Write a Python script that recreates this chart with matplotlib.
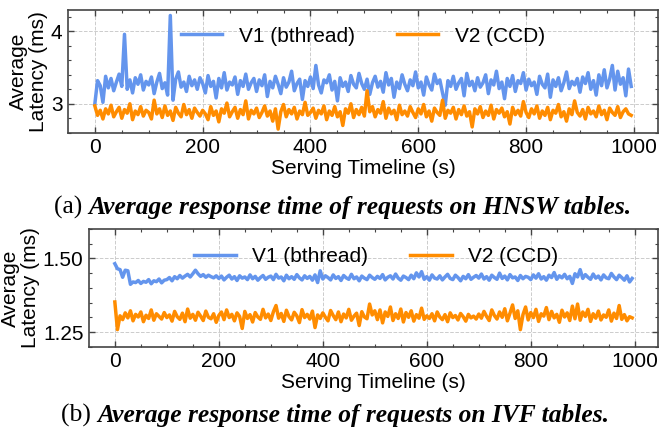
import matplotlib
matplotlib.use('Agg')
import matplotlib.pyplot as plt
from matplotlib.ticker import MultipleLocator, AutoMinorLocator, FormatStrFormatter
import numpy as np

# serving timeline, one sample every 5 s
timeline = np.arange(0, 1000, 5)

# (a) HNSW tables, average latency (ms)
hnsw_v1 = [
    3.00, 3.32, 3.25, 3.02, 3.38, 3.22, 3.35, 3.18, 3.30, 3.41, 3.24, 3.96, 3.20, 3.33, 3.15, 3.36, 3.27, 3.40, 3.19, 3.31,
    3.26, 3.37, 3.14, 3.30, 3.42, 3.21, 3.29, 3.12, 4.22, 3.05, 3.34, 3.44, 3.23, 3.30, 3.17, 3.38, 3.25, 3.33, 3.20, 3.36,
    3.28, 3.15, 3.39, 3.24, 3.31, 3.08, 3.35, 3.22, 3.43, 3.19, 3.30, 3.26, 3.37, 3.13, 3.32, 3.24, 3.41, 3.20, 3.29, 3.35,
    3.17, 3.33, 3.25, 3.40, 3.10, 3.31, 3.22, 3.38, 3.27, 3.14, 3.36, 3.23, 3.30, 3.45, 3.18, 3.28, 3.34, 3.06, 3.32, 3.24,
    3.37, 3.21, 3.53, 3.26, 3.15, 3.33, 3.29, 3.40, 3.19, 3.31, 3.04, 3.36, 3.24, 3.30, 3.17, 3.39, 3.27, 3.22, 3.42, 3.28,
    3.20, 3.34, 3.13, 3.29, 3.38, 3.23, 3.31, 3.16, 3.43, 3.26, 3.35, 3.09, 3.30, 3.21, 3.40, 3.27, 3.18, 3.33, 3.25, 3.44,
    3.22, 3.30, 3.12, 3.37, 3.26, 3.19, 3.41, 3.28, 3.33, 3.15, 2.98, 3.32, 3.24, 3.38, 3.20, 3.29, 3.35, 3.11, 3.42, 3.25,
    3.31, 3.18, 3.36, 3.23, 3.29, 3.40, 3.14, 3.33, 3.26, 3.45, 3.21, 3.30, 3.07, 3.35, 3.24, 3.39, 3.17, 3.32, 3.28, 3.43,
    3.19, 3.34, 3.25, 3.30, 3.13, 3.38, 3.27, 3.22, 3.41, 3.09, 3.33, 3.24, 3.36, 3.18, 3.29, 3.44, 3.21, 3.31, 3.26, 3.35,
    3.16, 3.37, 3.28, 3.43, 3.20, 3.32, 3.12, 3.40, 3.25, 3.47, 3.22, 3.34, 3.53, 3.19, 3.45, 3.27, 3.36, 3.11, 3.48, 3.24,
]
hnsw_v2 = [
    2.97, 2.84, 2.91, 2.79, 2.93, 2.86, 2.98, 2.82, 2.89, 2.95, 2.80, 2.92, 2.87, 3.00, 2.78, 2.90, 2.85, 2.96, 2.83, 2.91,
    2.88, 2.79, 3.05, 2.86, 2.93, 2.81, 2.97, 2.84, 2.90, 2.77, 2.95, 2.87, 2.82, 2.99, 2.85, 2.92, 2.80, 2.94, 2.88, 2.83,
    2.91, 2.86, 2.78, 2.96, 2.84, 2.90, 2.75, 2.93, 2.87, 3.01, 2.82, 2.89, 2.95, 2.80, 2.92, 2.85, 3.04, 2.79, 2.91, 2.86,
    2.94, 2.81, 2.88, 2.97, 2.83, 2.90, 2.76, 2.93, 2.65, 2.89, 2.99, 2.82, 2.92, 2.86, 2.95, 2.79, 2.90, 2.85, 3.02, 2.84,
    2.88, 2.94, 2.80, 2.91, 2.86, 2.97, 2.78, 2.90, 2.84, 2.96, 2.82, 2.89, 2.70, 2.93, 2.87, 3.00, 2.81, 2.92, 2.85, 2.95,
    2.83, 3.18, 2.89, 2.96, 2.82, 2.92, 2.87, 3.03, 2.80, 2.94, 2.86, 2.91, 2.78, 2.98, 2.85, 2.90, 2.83, 2.96, 2.88, 2.81,
    2.93, 2.86, 2.99, 2.82, 2.90, 2.76, 2.94, 2.88, 2.84, 3.05, 2.80, 2.91, 2.87, 2.95, 2.79, 2.92, 2.85, 2.97, 2.83, 2.89,
    2.68, 2.93, 2.86, 2.96, 2.81, 2.90, 2.84, 2.98, 2.79, 2.92, 2.87, 2.94, 2.82, 2.89, 2.72, 2.95, 2.85, 2.91, 2.83, 3.03,
    2.88, 2.81, 2.93, 2.86, 2.97, 2.80, 2.90, 2.84, 2.95, 2.78, 2.91, 2.87, 2.99, 2.82, 2.89, 2.76, 2.93, 2.85, 3.04, 2.88,
    2.83, 2.92, 2.79, 2.95, 2.86, 2.90, 2.82, 2.97, 2.85, 2.91, 2.78, 2.94, 2.88, 2.84, 2.96, 2.81, 2.89, 2.93, 2.86, 2.84,
]

# (b) IVF tables, average latency (ms)
ivf_v1 = [
    1.482, 1.465, 1.462, 1.436, 1.460, 1.458, 1.412, 1.420, 1.418, 1.425, 1.415, 1.422, 1.419, 1.428, 1.414, 1.424, 1.421, 1.430, 1.417, 1.426,
    1.428, 1.435, 1.424, 1.438, 1.431, 1.442, 1.433, 1.440, 1.446, 1.437, 1.448, 1.460, 1.448, 1.439, 1.445, 1.436, 1.443, 1.438, 1.434, 1.441,
    1.432, 1.440, 1.427, 1.436, 1.443, 1.430, 1.438, 1.425, 1.441, 1.433, 1.437, 1.428, 1.444, 1.431, 1.439, 1.426, 1.435, 1.442, 1.429, 1.436,
    1.440, 1.428, 1.446, 1.433, 1.437, 1.424, 1.443, 1.431, 1.438, 1.429, 1.445, 1.434, 1.427, 1.441, 1.432, 1.439, 1.426, 1.444, 1.418, 1.458,
    1.430, 1.441, 1.435, 1.427, 1.444, 1.432, 1.438, 1.425, 1.442, 1.434, 1.429, 1.446, 1.431, 1.437, 1.424, 1.440, 1.433, 1.428, 1.443, 1.435,
    1.429, 1.439, 1.432, 1.445, 1.427, 1.436, 1.441, 1.430, 1.447, 1.433, 1.426, 1.440, 1.435, 1.428, 1.443, 1.431, 1.451, 1.437, 1.455, 1.429,
    1.438, 1.426, 1.444, 1.433, 1.430, 1.441, 1.427, 1.437, 1.446, 1.432, 1.428, 1.443, 1.435, 1.424, 1.439, 1.431, 1.445, 1.429, 1.436, 1.442,
    1.433, 1.447, 1.430, 1.438, 1.426, 1.443, 1.435, 1.429, 1.450, 1.432, 1.440, 1.427, 1.445, 1.434, 1.437, 1.425, 1.442, 1.431, 1.439, 1.436,
    1.428, 1.444, 1.433, 1.448, 1.430, 1.438, 1.426, 1.443, 1.435, 1.452, 1.429, 1.441, 1.434, 1.446, 1.431, 1.439, 1.415, 1.448, 1.437, 1.462,
    1.432, 1.445, 1.436, 1.429, 1.447, 1.433, 1.440, 1.427, 1.444, 1.434, 1.431, 1.449, 1.437, 1.428, 1.443, 1.435, 1.426, 1.441, 1.420, 1.432,
]
ivf_v2 = [
    1.352, 1.258, 1.305, 1.292, 1.315, 1.298, 1.322, 1.288, 1.310, 1.301, 1.318, 1.285, 1.307, 1.296, 1.325, 1.290, 1.312, 1.303, 1.294, 1.316,
    1.299, 1.308, 1.287, 1.320, 1.302, 1.293, 1.314, 1.285, 1.328, 1.297, 1.310, 1.290, 1.317, 1.304, 1.289, 1.321, 1.300, 1.295, 1.312, 1.283,
    1.306, 1.318, 1.292, 1.325, 1.299, 1.310, 1.288, 1.315, 1.303, 1.262, 1.320, 1.296, 1.309, 1.284, 1.316, 1.301, 1.293, 1.327, 1.298, 1.311,
    1.289, 1.319, 1.340, 1.297, 1.313, 1.286, 1.324, 1.302, 1.291, 1.317, 1.305, 1.282, 1.326, 1.299, 1.310, 1.294, 1.321, 1.265, 1.308, 1.296,
    1.315, 1.300, 1.288, 1.323, 1.306, 1.292, 1.318, 1.285, 1.311, 1.298, 1.327, 1.290, 1.304, 1.314, 1.272, 1.319, 1.301, 1.295, 1.345, 1.308,
    1.322, 1.292, 1.325, 1.281, 1.318, 1.303, 1.335, 1.289, 1.312, 1.296, 1.328, 1.284, 1.316, 1.300, 1.322, 1.287, 1.309, 1.297, 1.331, 1.293,
    1.305, 1.296, 1.312, 1.288, 1.318, 1.301, 1.292, 1.309, 1.285, 1.315, 1.299, 1.306, 1.291, 1.313, 1.302, 1.287, 1.310, 1.298, 1.304, 1.294,
    1.311, 1.297, 1.320, 1.303, 1.289, 1.325, 1.306, 1.294, 1.318, 1.300, 1.329, 1.288, 1.314, 1.342, 1.296, 1.322, 1.258, 1.309, 1.335, 1.291,
    1.316, 1.299, 1.327, 1.286, 1.312, 1.304, 1.333, 1.292, 1.320, 1.298, 1.310, 1.283, 1.324, 1.301, 1.315, 1.289, 1.338, 1.295, 1.345, 1.290,
    1.318, 1.303, 1.327, 1.286, 1.312, 1.297, 1.321, 1.291, 1.308, 1.300, 1.325, 1.287, 1.314, 1.296, 1.340, 1.293, 1.309, 1.288, 1.302, 1.298,
]

labels = ['V1 (bthread)', 'V2 (CCD)']
colors = ['cornflowerblue', 'darkorange']

plt.rcParams['font.family'] = ['Liberation Sans', 'DejaVu Sans']
plt.rcParams['font.size'] = 15
plt.rcParams['xtick.direction'] = 'in'
plt.rcParams['ytick.direction'] = 'in'
plt.rcParams['xtick.top'] = True
plt.rcParams['ytick.right'] = True

fig = plt.figure(figsize=(6.63, 4.38), dpi=100)
ax1 = fig.add_axes([0.1026, 0.697, 0.8899, 0.2808])
ax2 = fig.add_axes([0.1342, 0.2084, 0.8583, 0.2688])


def style(ax):
    ax.grid(True, which='major', linestyle='--', linewidth=0.7, color='#cccccc')
    ax.set_axisbelow(True)
    for s in ax.spines.values():
        s.set_color('#444444')
        s.set_linewidth(1.2)
    ax.xaxis.set_major_locator(MultipleLocator(200))
    ax.xaxis.set_minor_locator(AutoMinorLocator(4))
    ax.yaxis.set_minor_locator(AutoMinorLocator(5))
    ax.tick_params(which='major', length=4, width=1, color='#444444', pad=4)
    ax.tick_params(which='minor', length=2, width=0.8, color='#444444')
    ax.set_xlabel('Serving Timeline (s)', labelpad=1)
    ax.set_ylabel('Average\nLatency (ms)', labelpad=2, linespacing=1.05)


# (a)
ax1.plot(timeline, hnsw_v1, color=colors[0], lw=2.5, label=labels[0])
ax1.plot(timeline, hnsw_v2, color=colors[1], lw=2.5, label=labels[1])
ax1.set_ylim(2.60, 4.30)
ax1.yaxis.set_major_locator(MultipleLocator(1))
style(ax1)
ax1.legend(loc='center', bbox_to_anchor=(0.5, 0.786), ncol=2, frameon=False,
           handlelength=2.0, handletextpad=0.8, columnspacing=2.0)

# (b)
ax2.plot(timeline, ivf_v1, color=colors[0], lw=2.5, label=labels[0])
ax2.plot(timeline, ivf_v2, color=colors[1], lw=2.5, label=labels[1])
ax2.set_ylim(1.20, 1.60)
ax2.yaxis.set_major_locator(MultipleLocator(0.25))
ax2.yaxis.set_major_formatter(FormatStrFormatter('%.2f'))
style(ax2)
ax2.legend(loc='center', bbox_to_anchor=(0.505, 0.765), ncol=2, frameon=False,
           handlelength=2.0, handletextpad=0.8, columnspacing=2.0)

# captions: "(a)" upright, the rest bold italic, centred on the given x
serif = ['Liberation Serif', 'DejaVu Serif']
captions = [('(a) ', 'Average response time of requests on HNSW tables.', 343, 214),
            ('(b) ', 'Average response time of requests on IVF tables.', 335, 422)]
fig.canvas.draw()
renderer = fig.canvas.get_renderer()
for tag, body, cx, py in captions:
    y = 1 - py / 438
    t1 = fig.text(0, y, tag, family=serif, fontsize=18.4, va='baseline')
    t2 = fig.text(0, y, body, family=serif, fontsize=18.4, fontweight='bold',
                  style='italic', va='baseline')
    w1 = t1.get_window_extent(renderer).width
    w2 = t2.get_window_extent(renderer).width
    left = cx - (w1 + w2) / 2
    t1.set_x(left / 663)
    t2.set_x((left + w1) / 663)

fig.savefig('out.png', dpi=100)
